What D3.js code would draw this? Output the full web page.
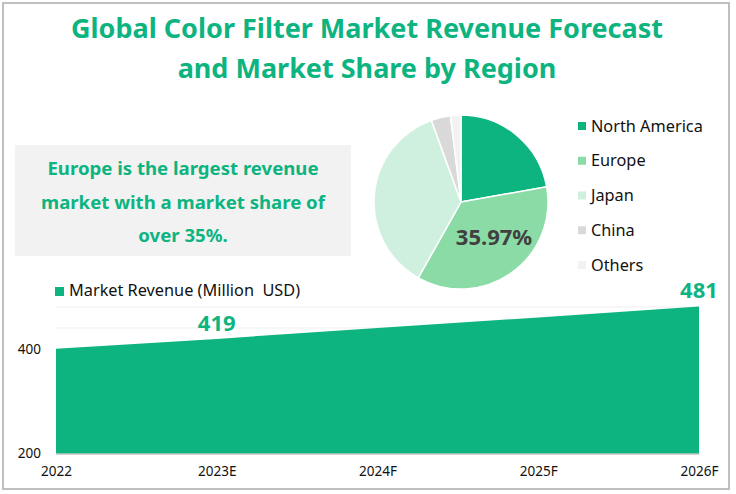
<!DOCTYPE html>
<html><head><meta charset="utf-8">
<script src="https://cdn.jsdelivr.net/npm/d3@7"></script>
<style>html,body{margin:0;padding:0;background:#fff}svg{display:block}text{font-family:"Noto Sans",sans-serif}</style>
</head><body><svg id="c" width="736" height="494"></svg>
<script>
const years = ["2022","2023E","2024F","2025F","2026F"];
const revenue = [400,419,440,460,481];
const yTicks = [200,400];
const gridValues = [440,480];
const labelled = {"2023E":419,"2026F":481};
const regions = ["North America","Europe","Japan","China","Others"];
const shares = [22.2,35.97,36.3,3.6,1.93];
const regionColors = ["#0DB47F","#8ADBA5","#CFF0DE","#D9D9D9","#F2F2F2"];
const titleLines = ["Global Color Filter Market Revenue Forecast","and Market Share by Region"];
const noteLines = ["Europe is the largest revenue","market with a market share of","over 35%."];
const green = "#0DB47F";
const ink = "#111";
const svg = d3.select("#c");
svg.append("rect").attr("x",3).attr("y",3).attr("width",726).attr("height",486).attr("fill","#fff").attr("stroke","#BFBFBF").attr("stroke-width",2);

svg.selectAll(".t").data(titleLines).join("text").attr("class","t")
  .attr("x",367).attr("y",(d,i)=>38+i*40).attr("text-anchor","middle")
  .attr("font-size",27).attr("font-weight",700).attr("fill",green).text(d=>d);

svg.append("rect").attr("x",15).attr("y",145).attr("width",336).attr("height",111).attr("fill","#F2F2F2");
svg.selectAll(".n").data(noteLines).join("text").attr("class","n")
  .attr("x",183).attr("y",(d,i)=>175+i*33.7).attr("text-anchor","middle")
  .attr("font-size",18.6).attr("font-weight",700).attr("fill",green).text(d=>d);

// pie
const pie = d3.pie().sort(null)(shares);
const arc = d3.arc().innerRadius(0).outerRadius(87);
const pg = svg.append("g").attr("transform","translate(461,202)");
pg.selectAll("path").data(pie).join("path").attr("d",arc)
  .attr("fill",(d,i)=>regionColors[i]).attr("stroke","#fff").attr("stroke-width",1.5);
pg.append("text").attr("x",33).attr("y",43).attr("text-anchor","middle")
  .attr("font-size",22).attr("font-weight",700).attr("fill","#404040").text(shares[1].toFixed(2)+"%");

const legY = d3.scalePoint().domain(regions).range([126,265]);
const lg = svg.selectAll(".l").data(regions).join("g").attr("class","l").attr("transform",d=>`translate(578,${legY(d)})`);
lg.append("rect").attr("y",-4).attr("width",8).attr("height",8).attr("fill",(d,i)=>regionColors[i]);
lg.append("text").attr("x",13).attr("y",5.5).attr("font-size",16.3).attr("fill",ink).text(d=>d);

// area
const x = d3.scalePoint().domain(years).range([56,699]);
const y = d3.scaleLinear().domain([200,480]).range([453.5,307]);
svg.selectAll(".g").data(gridValues).join("line").attr("class","g")
  .attr("x1",56).attr("x2",699).attr("y1",d=>y(d)).attr("y2",d=>y(d)).attr("stroke","#EFEFEF");
svg.append("path").datum(revenue)
  .attr("d",d3.area().x((d,i)=>x(years[i])).y0(y(200)).y1(d=>y(d))).attr("fill",green);

const xa = svg.append("g").attr("transform",`translate(0,${y(200)})`)
  .call(d3.axisBottom(x).tickSize(0).tickPadding(13));
xa.select(".domain").attr("stroke","#A6A6A6");
xa.selectAll("text").attr("font-size",13.5).attr("fill",ink).attr("font-family",'"Noto Sans",sans-serif');
const ya = svg.append("g").attr("transform","translate(41,0)")
  .call(d3.axisLeft(y).tickValues(yTicks).tickSize(0).tickPadding(0));
ya.select(".domain").remove();
ya.selectAll("text").attr("font-size",13.5).attr("fill",ink).attr("font-family",'"Noto Sans",sans-serif');

svg.selectAll(".v").data(Object.entries(labelled)).join("text").attr("class","v")
  .attr("x",d=>x(d[0])).attr("y",d=>y(d[1])-8).attr("text-anchor","middle")
  .attr("font-size",22).attr("font-weight",700).attr("fill",green).text(d=>d[1]);

svg.append("rect").attr("x",55).attr("y",287).attr("width",9).attr("height",9).attr("fill",green);
svg.append("text").attr("x",69).attr("y",296).attr("font-size",16.3).attr("fill",ink).attr("xml:space","preserve").text("Market Revenue (Million  USD)");
</script></body></html>
